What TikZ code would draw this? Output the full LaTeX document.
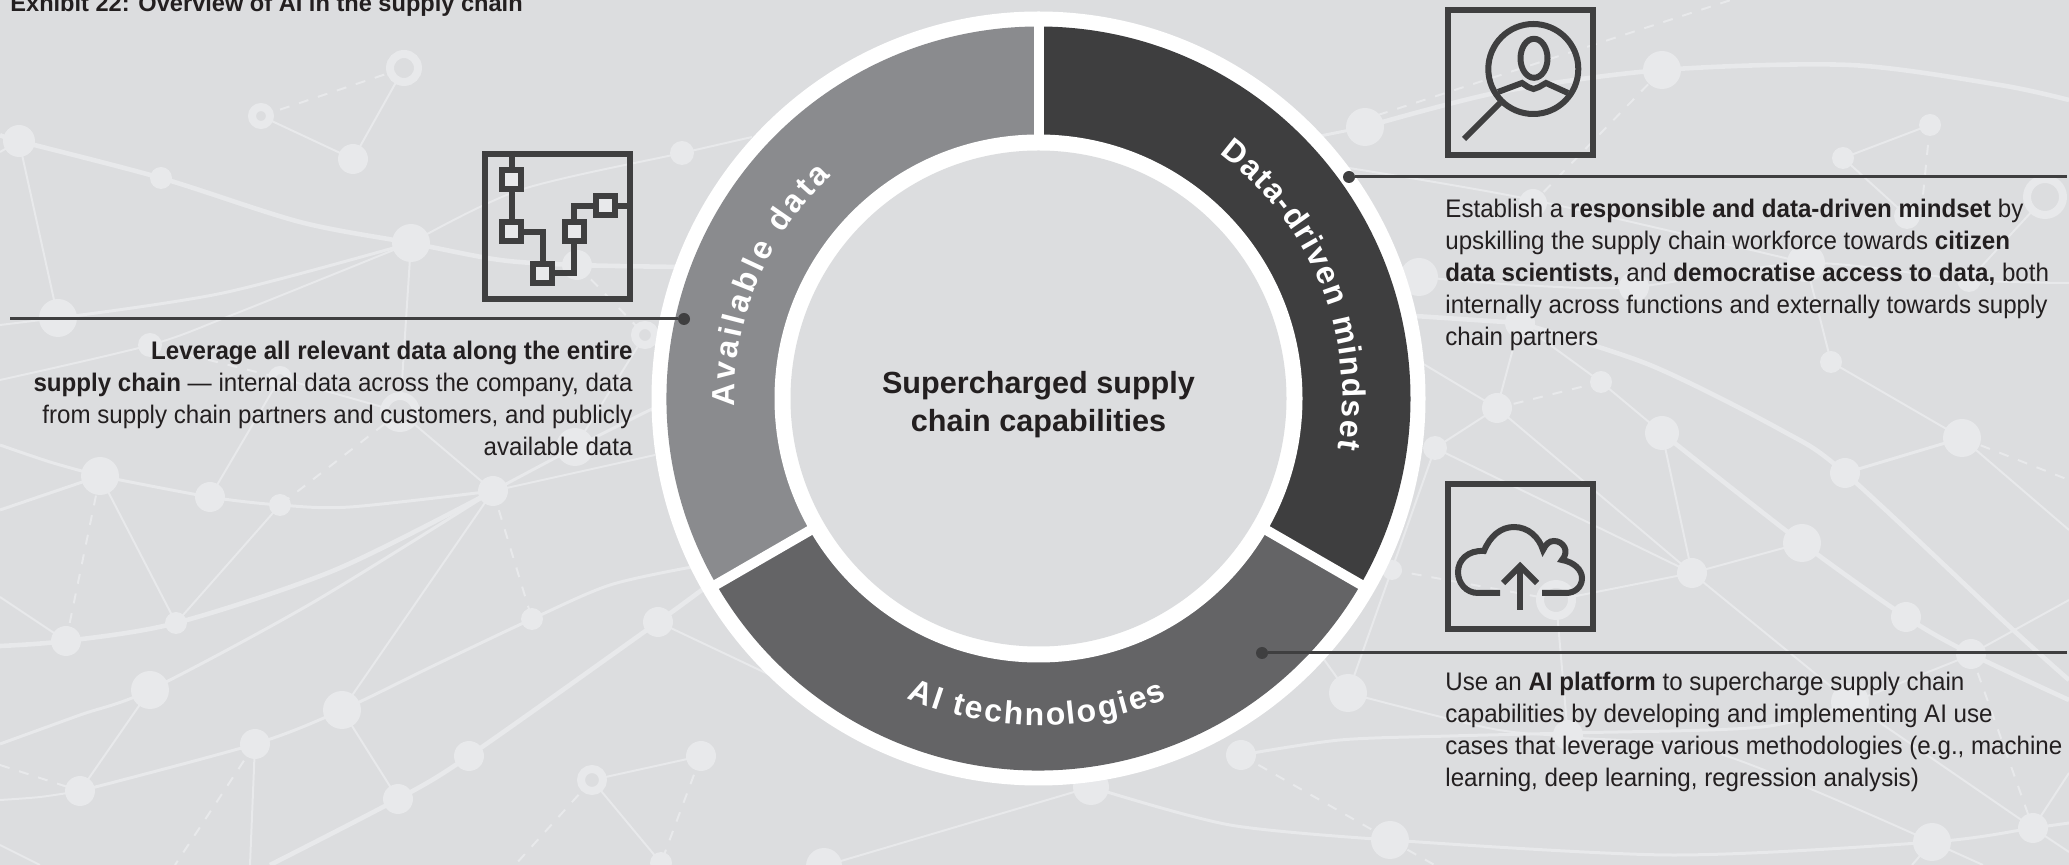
\documentclass[tikz,border=0pt]{standalone}
\usepackage{fontspec}
\setmainfont{Liberation Sans}
\newfontfamily\bodyfont[FakeStretch=0.95]{Liberation Sans}
\usetikzlibrary{positioning, calc, decorations.text}

\definecolor{bgcol}{HTML}{DCDDDF}
\definecolor{netcol}{HTML}{E8E9EB}
\definecolor{inkcol}{HTML}{3F3F40}
\definecolor{textcol}{HTML}{231F20}
\definecolor{dataringcol}{HTML}{8A8B8E}
\definecolor{mindringcol}{HTML}{3E3E3F}
\definecolor{airingcol}{HTML}{646466}

\newcommand{\ringfont}{\fontsize{16}{16}\selectfont\bfseries}

\tikzset{
  netthin/.style={draw=netcol, line width=1pt},
  netmid/.style={draw=netcol, line width=1.5pt},
  netthick/.style={draw=netcol, line width=2.3pt},
  netdash/.style={draw=netcol, line width=1pt, dash pattern=on 5pt off 5pt},
  netring/.style={draw=netcol, fill=bgcol, line width=4pt},
  iconbox/.style={draw=inkcol, line width=3pt, minimum size=72.5pt, inner sep=0pt},
  chartbox/.style={draw=inkcol, fill=netcol, line width=3pt, minimum size=9.5pt, inner sep=0pt},
  iconline/.style={draw=inkcol, line width=3pt},
  thinicon/.style={draw=inkcol, line width=3pt},
  leaderdot/.style={circle, fill=inkcol, minimum size=6pt, inner sep=0pt},
  leader/.style={draw=inkcol, line width=1.5pt},
  bodytext/.style={text=textcol, font=\bodyfont\fontsize{12.7}{16}\selectfont, inner sep=0pt},
}

\begin{document}
\begin{tikzpicture}[x=0.5pt, y=-0.5pt]
\useasboundingbox (0,0) rectangle (2069,865);
\fill[bgcol] (0,0) rectangle (2069,865);

\draw[netdash] (261,116) -- (404,68);
\draw[netthin] (261,116) -- (353,159) -- (404,68);
\draw[netthick] plot[smooth] coordinates {(0,135) (19,141) (161,178) (300,222) (411,243) (500,260) (577,265) (680,267)};
\draw[netthin] (0,152) -- (19,141) -- (58,318) -- (0,325);
\draw[netmid] plot[smooth] coordinates {(58,318) (223,293) (411,243)};
\draw[netthin] plot[smooth] coordinates {(411,243) (232,315) (150,345) (0,380)};
\draw[netthin] plot[smooth] coordinates {(411,243) (520,190) (682,153) (752,137)};
\draw[netthin] (411,243) -- (400,412);
\draw[netdash] (577,265) -- (645,335);
\draw[netthin] (645,335) -- (575,447);
\draw[netdash] (150,345) -- (280,378);
\draw[netthin] (280,378) -- (400,412) -- (493,491);
\draw[netthin] (280,378) -- (210,497);
\draw[netdash] (400,412) -- (280,505);
\draw[netmid] plot[smooth] coordinates {(0,445) (50,462) (100,476)};
\draw[netmid] (0,510) -- (100,476);
\draw[netdash] (100,476) -- (66,641);
\draw[netthin] (100,476) -- (176,623) -- (280,505);
\draw[netmid] plot[smooth] coordinates {(100,476) (210,497) (280,505) (350,507) (493,491)};
\draw[netthick] plot[smooth] coordinates {(0,646) (66,641) (176,623) (335,570) (493,491)};
\draw[netthin] (0,597) -- (66,641);
\draw[netmid] plot[smooth] coordinates {(0,744) (80,715) (150,690) (312,603) (493,491)};
\draw[netthin] (150,690) -- (80,791);
\draw[netdash] (0,765) -- (80,791);
\draw[netthin] plot[smooth] coordinates {(0,800) (40,797) (80,791)};
\draw[netmid] plot[smooth] coordinates {(80,791) (255,744) (342,710) (435,665) (532,619) (610,585) (692,567)};
\draw[netthin] (493,491) -- (342,710) -- (398,799);
\draw[netdash] (493,491) -- (532,619);
\draw[netmid] plot[smooth] coordinates {(493,491) (576,447) (660,405)};
\draw[netthin] (493,491) -- (655,455);
\draw[netthick] plot[smooth] coordinates {(270,865) (398,799) (469,756) (658,622) (715,580)};
\draw[netthin] (658,622) -- (770,675);
\draw[netdash] (255,744) -- (175,865);
\draw[netthin] (255,744) -- (250,865);
\draw[netthin] (0,845) -- (40,865);
\draw[netthin] (661,863) -- (592,780) -- (701,756);
\draw[netdash] (592,780) -- (515,865);
\draw[netdash] (701,756) -- (661,863);
\draw[netthin] (824,866) -- (1091,787);
\draw[netmid] plot[smooth] coordinates {(1091,787) (1230,825) (1390,840)};
\draw[netdash] (1241,755) -- (1390,840);
\draw[netdash] (1390,840) -- (1440,868);
\draw[netmid] plot[smooth] coordinates {(1241,755) (1340,740) (1450,736) (1568,733) (1762,727) (1850,703)};
\draw[netthin] (1850,703) -- (1971,655);
\draw[netthin] plot[smooth] coordinates {(1348,693) (1488,728) (1568,737) (1717,753) (1932,842)};
\draw[netthin] (1348,693) -- (1435,448);
\draw[netthin] (1310,640) -- (1348,693);
\draw[netdash] (1392,570) -- (1556,600);
\draw[netmid] (1300,140) -- (1365,127);
\draw[netthick] plot[smooth] coordinates {(1365,127) (1500,92) (1662,70) (1850,65) (2000,85) (2069,100)};
\draw[netdash] (1378,115) -- (1731,0);
\draw[netdash] (1662,70) -- (1533,203);
\draw[netthin] (1930,125) -- (1843,158) -- (1907,216);
\draw[netdash] (1930,125) -- (1921,215);
\draw[netthin] (2045,197) -- (1969,280);
\draw[netthin] plot[smooth] coordinates {(1330,165) (1533,200) (1806,263)};
\draw[netthin] (1806,263) -- (1831,362) -- (1962,438);
\draw[netthin] plot[smooth] coordinates {(1419,277) (1520,285) (1634,287) (1806,263) (1969,280) (2069,283)};
\draw[netthick] (1400,315) -- (1520,323);
\draw[netthick] plot[smooth] coordinates {(1520,323) (1650,365) (1781,430) (1845,473) (2010,627) (2069,680)};
\draw[netthin] (1520,323) -- (1601,382) -- (1662,433);
\draw[netthin] (1520,323) -- (1497,408);
\draw[netdash] (1601,382) -- (1497,408);
\draw[netthin] (1400,350) -- (1497,408) -- (1435,448);
\draw[netthin] (1497,408) -- (1692,573) -- (1435,448);
\draw[netthin] (1662,433) -- (1692,573);
\draw[netthick] plot[smooth] coordinates {(1662,433) (1802,543) (1906,617) (1971,654) (2069,700)};
\draw[netmid] (1962,438) -- (1845,473);
\draw[netthin] (1962,438) -- (2069,530);
\draw[netdash] (1962,438) -- (2069,480);
\draw[netthin] (1802,543) -- (1692,573) -- (1556,600) -- (1568,737);
\draw[netthin] (1692,573) -- (1850,702) -- (2033,828);
\draw[netdash] (1971,654) -- (2033,828);
\draw[netthin] (1971,654) -- (2069,600);
\draw[netmid] plot[smooth] coordinates {(1390,840) (1671,855) (1932,842) (2033,828) (2069,823)};
\draw[netthin] (1932,842) -- (1983,865);
\draw[netthin] (1932,842) -- (1912,865);
\draw[netthin] (2069,852) -- (2033,828) -- (2069,773);

\fill[netcol] (353,159) circle(15);
\fill[netcol] (19,141) circle(16);
\fill[netcol] (161,178) circle(11);
\fill[netcol] (411,243) circle(19);
\fill[netcol] (58,318) circle(19);
\fill[netcol] (682,153) circle(12);
\fill[netcol] (577,265) circle(15);
\fill[netcol] (150,345) circle(12);
\fill[netcol] (100,476) circle(19);
\fill[netcol] (210,497) circle(15);
\fill[netcol] (280,505) circle(11);
\fill[netcol] (493,491) circle(15);
\fill[netcol] (176,623) circle(11);
\fill[netcol] (66,641) circle(15);
\fill[netcol] (575,447) circle(19);
\fill[netcol] (532,619) circle(11);
\fill[netcol] (658,622) circle(15);
\fill[netcol] (150,690) circle(19);
\fill[netcol] (342,710) circle(19);
\fill[netcol] (255,744) circle(15);
\fill[netcol] (469,756) circle(15);
\fill[netcol] (398,799) circle(15);
\fill[netcol] (80,791) circle(15);
\fill[netcol] (701,756) circle(15);
\fill[netcol] (661,863) circle(11);
\fill[netcol] (1091,787) circle(18);
\fill[netcol] (824,866) circle(18);
\fill[netcol] (1241,755) circle(15);
\fill[netcol] (1348,693) circle(19);
\fill[netcol] (1390,840) circle(19);
\fill[netcol] (1435,448) circle(12);
\fill[netcol] (1392,570) circle(10);
\fill[netcol] (1365,127) circle(19);
\fill[netcol] (1662,70) circle(19);
\fill[netcol] (1930,125) circle(11);
\fill[netcol] (1843,158) circle(11);
\fill[netcol] (1533,203) circle(14);
\fill[netcol] (1907,216) circle(13);
\fill[netcol] (1969,280) circle(12);
\fill[netcol] (1806,263) circle(19);
\fill[netcol] (1634,287) circle(15);
\fill[netcol] (1520,323) circle(15);
\fill[netcol] (1419,277) circle(19);
\fill[netcol] (1831,362) circle(11);
\fill[netcol] (1601,382) circle(11);
\fill[netcol] (1497,408) circle(15);
\fill[netcol] (1662,433) circle(17);
\fill[netcol] (1962,438) circle(19);
\fill[netcol] (1845,473) circle(15);
\fill[netcol] (1802,543) circle(19);
\fill[netcol] (1692,573) circle(15);
\fill[netcol] (1906,617) circle(15);
\fill[netcol] (1971,654) circle(15);
\fill[netcol] (1850,702) circle(19);
\fill[netcol] (1568,735) circle(15);
\fill[netcol] (1932,842) circle(19);
\fill[netcol] (2033,828) circle(15);
\filldraw[netring] (404,68) circle(14);
\filldraw[netring] (261,116) circle(9);
\filldraw[netring] (645,335) circle(10);
\filldraw[netring] (280,378) circle(8);
\filldraw[netring] (400,412) circle(16);
\filldraw[netring] (592,780) circle(11);
\filldraw[netring] (2045,197) circle(18);
\filldraw[netring] (1556,600) circle(16);

\begin{scope}[shift={(1038.5,398.5)}, x=0.5pt, y=0.5pt]
\fill[white] (0,0) circle(387);
\fill[mindringcol] (0,0) -- (90:372) arc[start angle=90, end angle=-30, radius=372] -- cycle;
\fill[airingcol] (0,0) -- (-30:372) arc[start angle=-30, end angle=-150, radius=372] -- cycle;
\fill[dataringcol] (0,0) -- (210:372) arc[start angle=210, end angle=90, radius=372] -- cycle;
\draw[white, line width=5pt] (0,0) -- (90:380);
\draw[white, line width=5pt] (0,0) -- (-30:380);
\draw[white, line width=5pt] (0,0) -- (210:380);
\fill[white] (0,0) circle(264);
\fill[bgcol] (0,0) circle(248);
\path[decorate, decoration={text along path, text align={fit to path},
  text={|\ringfont\color{white}|Available data}}]
  (181.5:304) arc[start angle=181.5, end angle=133, radius=304];
\path[decorate, decoration={text along path, text align={fit to path},
  text={|\ringfont\color{white}|Data-driven mindset}}]
  (53.5:304) arc[start angle=53.5, end angle=-9.5, radius=304];
\path[decorate, decoration={text along path, text align={fit to path},
  text={|\ringfont\color{white}|AI technologies}}]
  (-113.7:327) arc[start angle=-113.7, end angle=-66.8, radius=327];
\end{scope}

\node[text=textcol, font=\fontsize{15.3}{19}\selectfont\bfseries, align=center, inner sep=0pt] (ringcentre) at (1038.5,405) {Supercharged supply\\chain capabilities};

\node[anchor=base west, text=textcol, font=\fontsize{11.8}{13}\selectfont\bfseries, inner sep=0pt] (exhibittitle) at (10,11.5) {Exhibit 22: Overview of AI in the supply chain};

\node[iconbox] (iconmindset) at (1520.5,82.5) {};
\node[iconbox] (iconchart) at (557.5,226.5) {};
\node[iconbox] (iconcloud) at (1520.5,557) {};

\draw[thinicon] (1533.3,69) circle(45);
\draw[thinicon] (1534,58.3) ellipse(13.5 and 19.5);
\draw[thinicon] (1498,92) -- (1522,83) -- (1528,87) -- (1533.5,89) -- (1539,87) -- (1546,83) -- (1568,93);
\draw[iconline] (1500,103) -- (1464,139);

\node[chartbox] (boxa) at (511.7,179.7) {};
\node[chartbox] (boxb) at (511.7,231.7) {};
\node[chartbox] (boxc) at (542.7,273.3) {};
\node[chartbox] (boxd) at (574,231.7) {};
\node[chartbox] (boxe) at (605,205.7) {};
\draw[iconline] (iconchart.north -| boxa) -- (boxa);
\draw[iconline] (boxa) -- (boxb);
\draw[iconline] (boxb) -| (boxc);
\draw[iconline] (boxc) -| (boxd);
\draw[iconline] (boxd) |- (boxe);
\draw[iconline] (boxe) -- (boxe -| iconchart.east);

\draw[iconline] (1500,593) -- (1478,593) .. controls (1466,593) and (1458,583) .. (1458,572) .. controls (1458,560) and (1468,550) .. (1484,551) .. controls (1490,536) and (1501,527) .. (1514,527) .. controls (1528,527) and (1539,537) .. (1543,550) .. controls (1546,544) and (1549,541) .. (1554,541) .. controls (1563,541) and (1570,551) .. (1562,560) .. controls (1574,562) and (1582,570) .. (1582,578) .. controls (1582,587) and (1575,593) .. (1566,593) -- (1542,593);
\draw[iconline] (1520,610) -- (1520,566);
\draw[iconline] (1503,583) -- (1520,566) -- (1537,583);

\node[leaderdot] (dotmindset) at (1349,177) {};
\node[leaderdot] (dotdata) at (684,319) {};
\node[leaderdot] (dotai) at (1262,653) {};
\coordinate (endmindset) at (2067,177);
\coordinate (enddata) at (10,319);
\coordinate (endai) at (2067,653);
\draw[leader] (dotmindset) -- (endmindset);
\draw[leader] (dotdata) -- (enddata);
\draw[leader] (dotai) -- (endai);

\node[bodytext, anchor=north east, align=right] (textdata) at (633,341) {\textbf{Leverage all relevant data along the entire}\\\textbf{supply chain} — internal data across the company, data\\from supply chain partners and customers, and publicly\\available data};
\node[bodytext, anchor=north west, align=left] (textmindset) at (1445,199) {Establish a \textbf{responsible and data-driven mindset} by\\upskilling the supply chain workforce towards \textbf{citizen}\\\textbf{data scientists,} and \textbf{democratise access to data,} both\\internally across functions and externally towards supply\\chain partners};
\node[bodytext, anchor=north west, align=left] (textai) at (1445,672) {Use an \textbf{AI platform} to supercharge supply chain\\capabilities by developing and implementing AI use\\cases that leverage various methodologies (e.g., machine\\learning, deep learning, regression analysis)};
\end{tikzpicture}
\end{document}
